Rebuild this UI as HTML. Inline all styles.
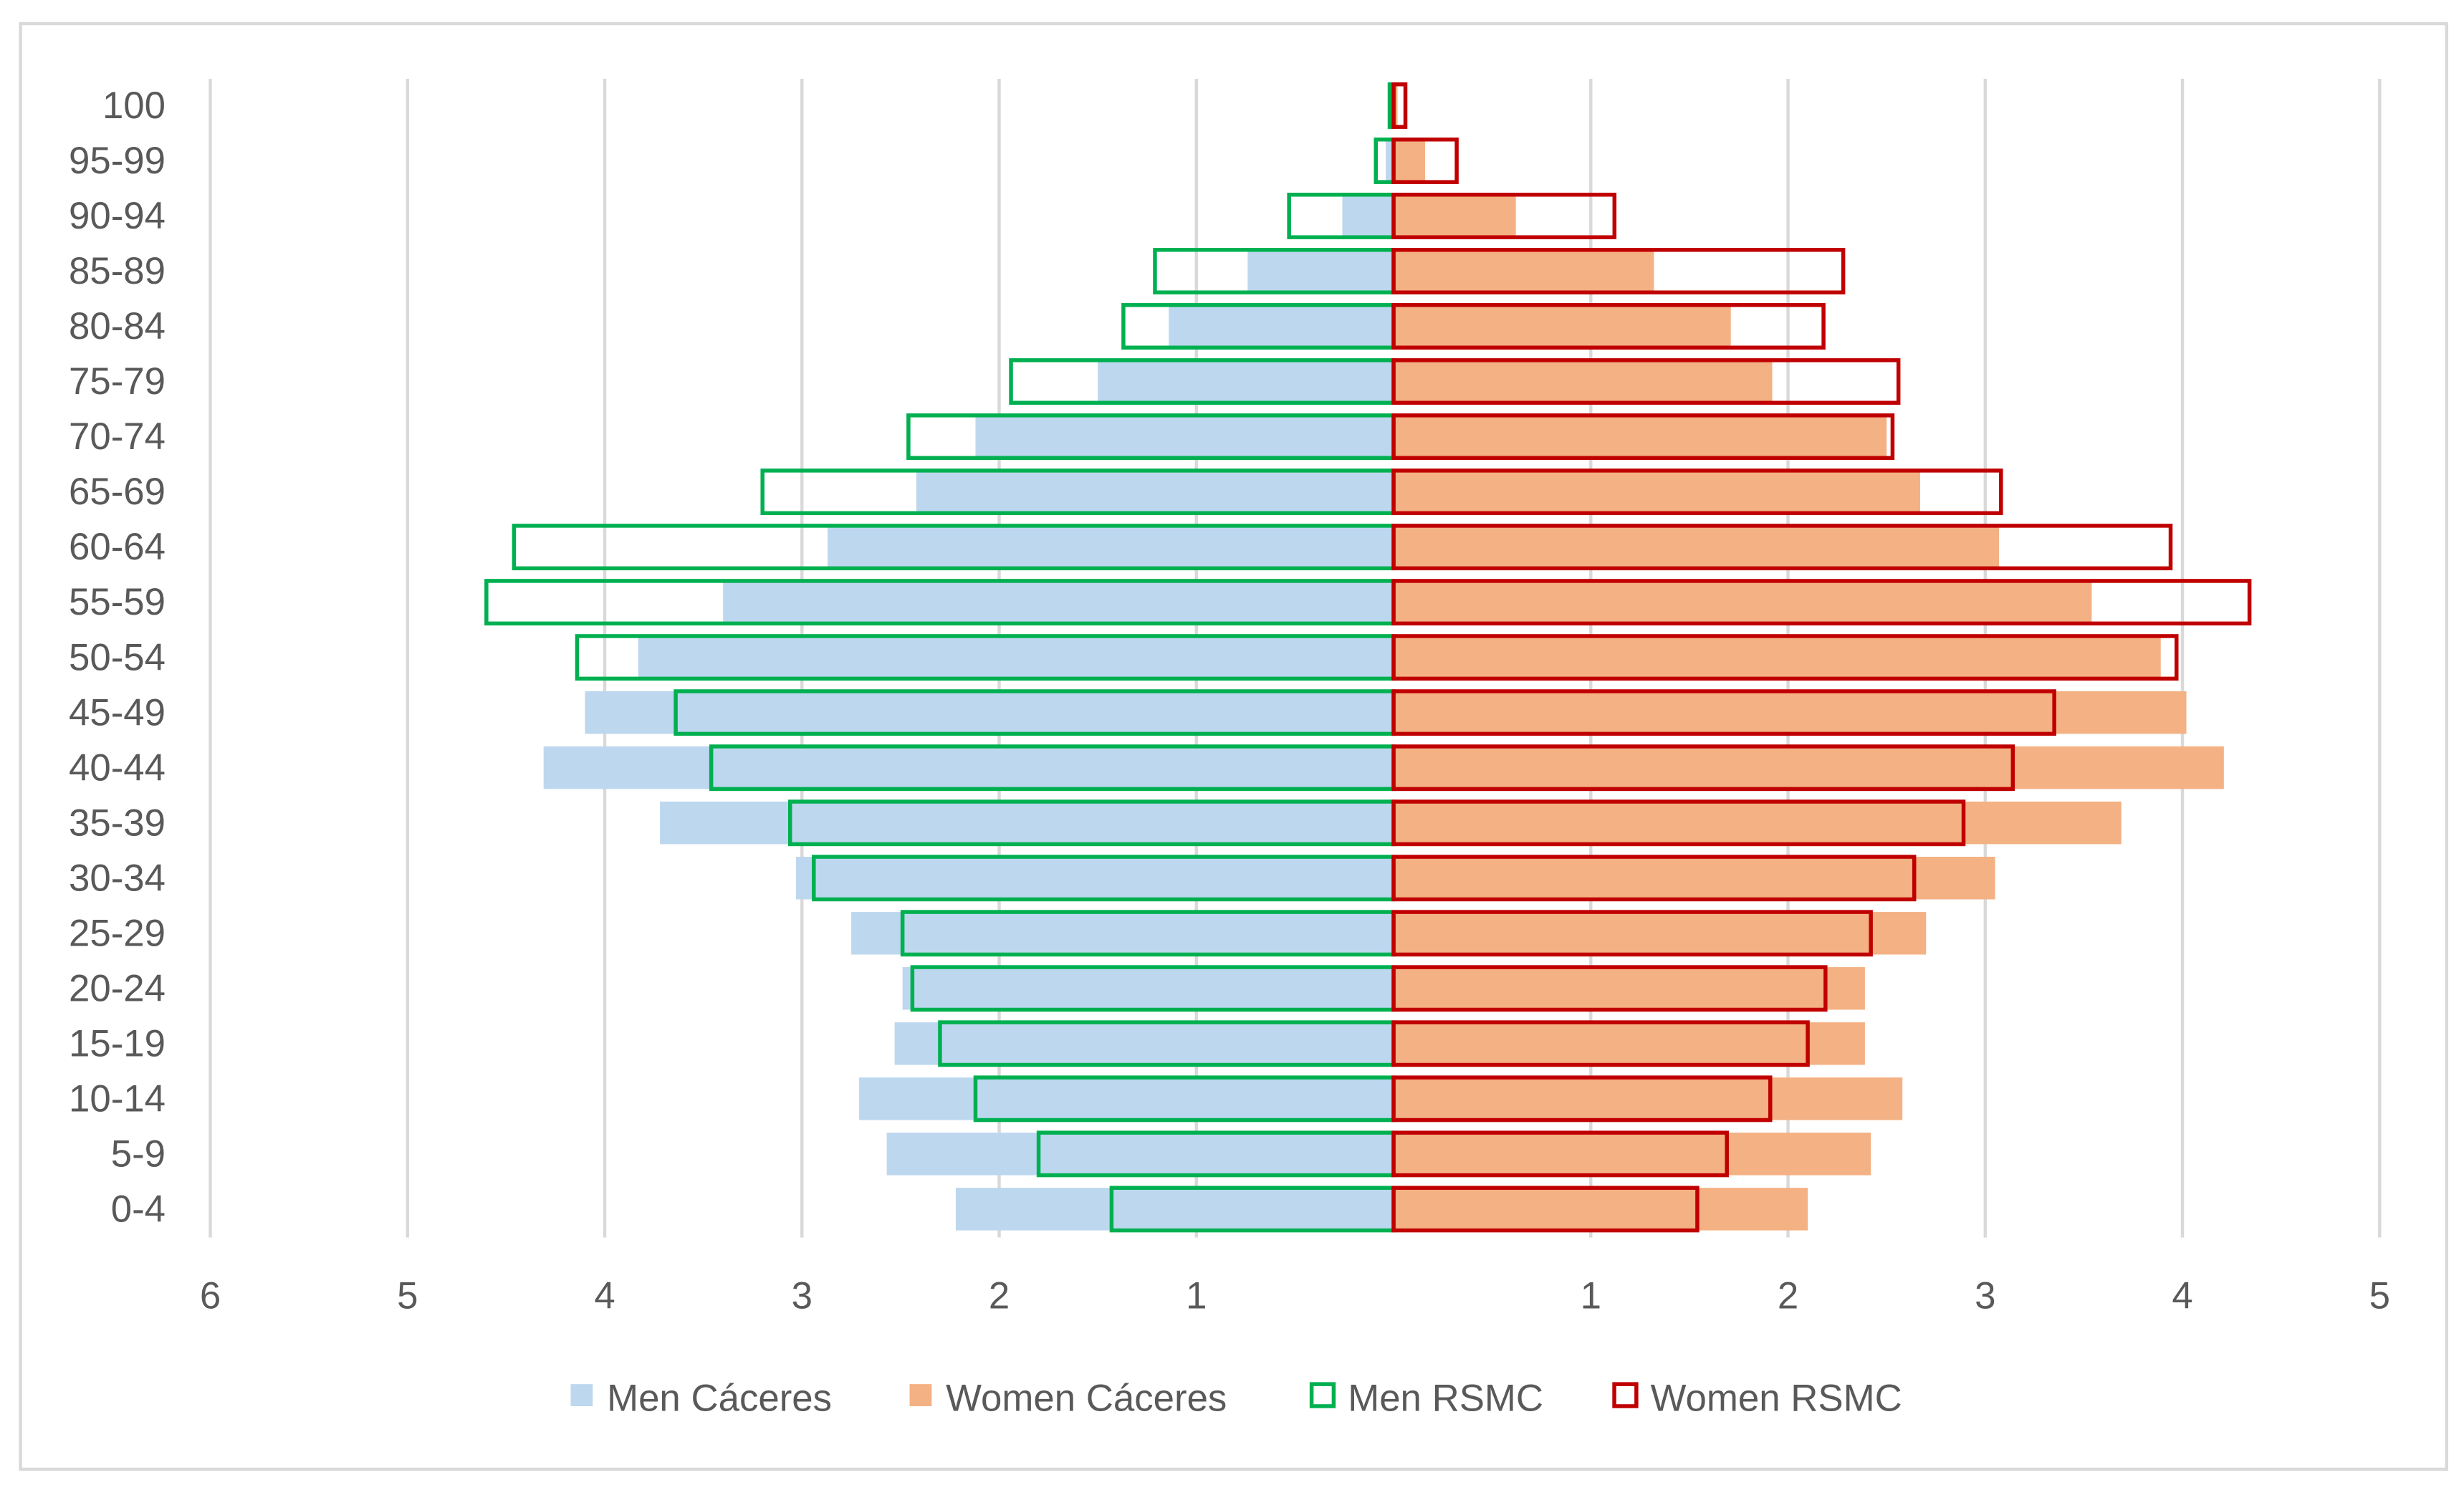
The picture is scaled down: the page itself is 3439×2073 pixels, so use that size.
<!DOCTYPE html>
<html><head><meta charset="utf-8"><style>
html,body{margin:0;padding:0;background:#fff;}
svg{display:block;font-family:"Liberation Sans",sans-serif;}
</style></head><body>
<svg id="chart" width="3439" height="2073" viewBox="0 0 1563 942" preserveAspectRatio="none" xmlns="http://www.w3.org/2000/svg">
<rect x="13" y="15" width="1539" height="917" fill="#fff" stroke="#d9d9d9" stroke-width="2"/>
<g id="grid"></g><g id="bars"></g><g id="labels"></g>
<g font-size="24" fill="#595959">
<g><rect x="362" y="878" width="14" height="14" fill="#BDD7EE"/><text x="385" y="895">Men Cáceres</text></g>
<g><rect x="577" y="878" width="14" height="14" fill="#F4B183"/><text x="600" y="895">Women Cáceres</text></g>
<g><rect x="832" y="878" width="14" height="14" fill="none" stroke="#00B050" stroke-width="2.5"/><text x="855" y="895">Men RSMC</text></g>
<g><rect x="1024" y="878" width="14" height="14" fill="none" stroke="#C00000" stroke-width="2.5"/><text x="1047" y="895">Women RSMC</text></g>
</g>
</svg>
<script>
const categories=["100","95-99","90-94","85-89","80-84","75-79","70-74","65-69","60-64","55-59","50-54","45-49","40-44","35-39","30-34","25-29","20-24","15-19","10-14","5-9","0-4"];
const menCaceres=[0.01,0.04,0.26,0.74,1.14,1.5,2.12,2.42,2.87,3.4,3.83,4.1,4.31,3.72,3.03,2.75,2.49,2.53,2.71,2.57,2.22];
const womenCaceres=[0.02,0.16,0.62,1.32,1.71,1.92,2.5,2.67,3.07,3.54,3.89,4.02,4.21,3.69,3.05,2.7,2.39,2.39,2.58,2.42,2.1];
const menRSMC=[0.02,0.09,0.53,1.21,1.37,1.94,2.46,3.2,4.46,4.6,4.14,3.64,3.46,3.06,2.94,2.49,2.44,2.3,2.12,1.8,1.43];
const womenRSMC=[0.06,0.32,1.12,2.28,2.18,2.56,2.53,3.08,3.94,4.34,3.97,3.35,3.14,2.89,2.64,2.42,2.19,2.1,1.91,1.69,1.54];
const leftTicks=[6,5,4,3,2,1];
const rightTicks=[1,2,3,4,5];
const NS="http://www.w3.org/2000/svg";
const cx=884,unit=125.1,y0=67,step=35,bh=27;
const xL=v=>cx-v*unit, xR=v=>cx+v*unit, yC=i=>y0+i*step;
function mk(tag,attrs,parent){const e=document.createElementNS(NS,tag);for(const k in attrs)e.setAttribute(k,attrs[k]);parent.appendChild(e);return e;}
const grid=document.getElementById('grid'),bars=document.getElementById('bars'),labels=document.getElementById('labels');
leftTicks.forEach(t=>{const l=mk('line',{x1:xL(t),x2:xL(t),y1:50,y2:785,stroke:'#d9d9d9','stroke-width':2},grid);


const tx=mk('text',{x:xL(t),y:830,'text-anchor':'middle','font-size':24,fill:'#595959'},labels);tx.textContent=t;

});
rightTicks.forEach(t=>{const l=mk('line',{x1:xR(t),x2:xR(t),y1:50,y2:785,stroke:'#d9d9d9','stroke-width':2},grid);


const tx=mk('text',{x:xR(t),y:830,'text-anchor':'middle','font-size':24,fill:'#595959'},labels);tx.textContent=t;

});
categories.forEach((c,i)=>{const y=yC(i);
const tx=mk('text',{x:105,y:y+8,'text-anchor':'end','font-size':24,fill:'#595959'},labels);tx.textContent=c;


let r=mk('rect',{x:xL(menCaceres[i]),y:y-bh/2,width:menCaceres[i]*unit,height:bh,fill:'#BDD7EE'},bars);


r=mk('rect',{x:cx,y:y-bh/2,width:womenCaceres[i]*unit,height:bh,fill:'#F4B183'},bars);


r=mk('rect',{x:xL(menRSMC[i]),y:y-bh/2,width:menRSMC[i]*unit,height:bh,fill:'none',stroke:'#00B050','stroke-width':2.5},bars);


r=mk('rect',{x:cx,y:y-bh/2,width:womenRSMC[i]*unit,height:bh,fill:'none',stroke:'#C00000','stroke-width':2.5},bars);


});
</script>
</body></html>
